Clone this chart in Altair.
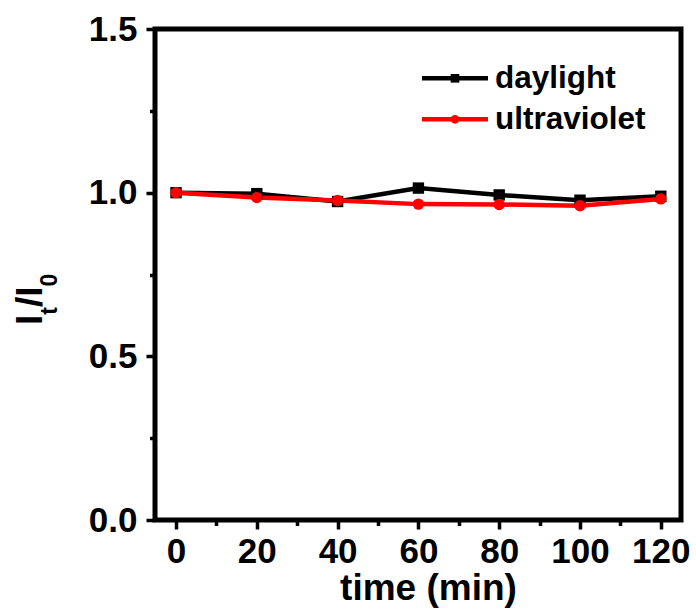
import altair as alt
import pandas as pd

# ---- data ----
time_min = [0, 20, 40, 60, 80, 100, 120]
daylight = [1.000, 0.997, 0.973, 1.014, 0.993, 0.977, 0.989]
ultraviolet = [1.000, 0.985, 0.976, 0.965, 0.964, 0.960, 0.981]
series_names = ["daylight", "ultraviolet"]
series_colors = ["#000000", "#ff0000"]
series_shapes = ["square", "circle"]
x_tick_values = [0, 10, 20, 30, 40, 50, 60, 70, 80, 90, 100, 110, 120]
y_tick_values = [0, 0.25, 0.5, 0.75, 1.0, 1.25, 1.5]

rows = []
for name, vals in zip(series_names, [daylight, ultraviolet]):
    for t, v in zip(time_min, vals):
        rows.append({"time": t, "ratio": v, "series": name})
df = pd.DataFrame(rows)

FONT = "Liberation Sans"
one = pd.DataFrame({"k": [0]})

x_enc = alt.X(
    "time:Q",
    scale=alt.Scale(domain=[-5.2, 125], nice=False, zero=False),
    axis=alt.Axis(
        values=x_tick_values,
        labelExpr="datum.value % 20 === 0 ? datum.label : ''",
        tickSize={"condition": {"test": "datum.value % 20 === 0", "value": 9}, "value": 5.5},
        labelPadding=5,
        title="time (min)",
        titleX=273,
        titleY=79.5,
        titleAlign="center",
        titleBaseline="alphabetic",
    ),
)
y_enc = alt.Y(
    "ratio:Q",
    scale=alt.Scale(domain=[0, 1.5], nice=False, zero=False),
    axis=alt.Axis(
        values=y_tick_values,
        format=".1f",
        labelExpr="(datum.value * 4) % 2 === 0 ? datum.label : ''",
        tickSize={"condition": {"test": "(datum.value * 4) % 2 === 0", "value": 9}, "value": 5.5},
        labelPadding=9,
        title="",
    ),
)
color_enc = alt.Color(
    "series:N",
    scale=alt.Scale(domain=series_names, range=series_colors),
    legend=None,
)
shape_enc = alt.Shape(
    "series:N",
    scale=alt.Scale(domain=series_names, range=series_shapes),
    legend=None,
)

base = alt.Chart(df)
lines = base.mark_line(strokeWidth=4.5).encode(x=x_enc, y=y_enc, color=color_enc, detail="series:N")
points = base.mark_point(filled=True, size=130, opacity=1).encode(
    x=x_enc, y=y_enc, color=color_enc, shape=shape_enc
)

layers = [lines, points]

# ---- manual legend ----
legend_y = [49.3, 90.3]
for name, col, shp, yy in zip(series_names, series_colors, series_shapes, legend_y):
    layers.append(
        alt.Chart(one).mark_rule(color=col, strokeWidth=4.5).encode(
            x=alt.value(267), x2=alt.value(333), y=alt.value(yy)
        )
    )
    layers.append(
        alt.Chart(one).mark_point(shape=shp, filled=True, size=75, color=col, opacity=1).encode(
            x=alt.value(300), y=alt.value(yy)
        )
    )
    layers.append(
        alt.Chart(one).mark_text(
            text=name, align="left", baseline="middle", font=FONT, fontSize=31.5,
            fontWeight="bold", color="black", dy=1
        ).encode(x=alt.value(340), y=alt.value(yy))
    )

# ---- y-axis title I_t/I_0 with subscripts ----
title_parts = [("I", 37, 0, 0), ("t", 23, 10.3, 15), ("/I", 37, 18.0, 0), ("0", 23, 38.6, 15)]
for txt, fs, ddx, ddy in title_parts:
    layers.append(
        alt.Chart(one).mark_text(
            text=txt, angle=270, align="left", baseline="alphabetic", font=FONT,
            fontSize=fs, fontWeight="bold", color="black", dx=ddx, dy=ddy
        ).encode(x=alt.value(-113), y=alt.value(296))
    )

chart = (
    alt.layer(*layers)
    .properties(
        width=526,
        height=491,
        padding={"left": 155, "top": 29, "right": 15, "bottom": 90},
        autosize=alt.AutoSizeParams(type="none"),
        background="white",
    )
    .configure_view(stroke="black", strokeWidth=5)
    .configure_axis(
        domain=False,
        tickColor="black",
        tickWidth=3.5,
        labelFont=FONT,
        labelFontSize=35,
        labelFontWeight="bold",
        labelColor="black",
        labelFlush=False,
        labelOverlap=False,
        grid=False,
        titleFont=FONT,
        titleFontSize=37,
        titleFontWeight="bold",
        titleColor="black",
    )
)

chart.save("out.html", embed_options={"renderer": "svg", "actions": False})
